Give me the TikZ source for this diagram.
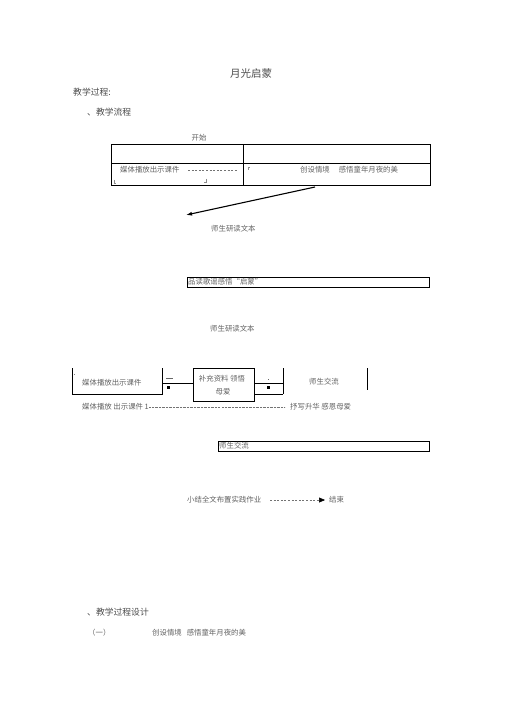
\documentclass[tikz,border=0pt]{standalone}
\usepackage{fontspec}
\setmainfont{Noto Sans CJK SC}
\usetikzlibrary{arrows.meta}
\begin{document}
\begin{tikzpicture}[x=1pt,y=-1pt,
  txt/.style={inner sep=0pt, anchor=west, text=black!62, font=\fontsize{7.4}{8}\selectfont},
  ctxt/.style={txt, anchor=center},
  head/.style={inner sep=0pt, anchor=west, text=black!70, font=\fontsize{8.8}{10}\selectfont},
  frame/.style={draw=black, line width=1pt},
  tick/.style={draw=black!45, line width=0.4pt},
  dotline/.style={draw=black!55, line width=0.5pt, dash pattern=on 2pt off 1.6pt},
  sq/.style={fill=black, inner sep=0pt, minimum size=3pt},
]
\useasboundingbox (0,0) rectangle (505,714);
% headings
\node[inner sep=0pt, text=black!70, font=\fontsize{10.5}{12}\selectfont] (title) at (251,74) {月光启蒙};
\node[head] (jxgc) at (73,92) {教学过程:};
\node[head] (lc) at (87,112) {、教学流程};
\node[ctxt] (start) at (199,138) {开始};
% table
\draw[frame] (111,145) rectangle (430,185);
\draw[frame] (111,164) -- (430,164);
\draw[frame] (243,145) -- (243,185);
\node[txt] (mt1) at (120,170) {媒体播放出示课件};
\coordinate (d1a) at (188,170);
\coordinate (d1b) at (237,170);
\draw[dotline] (d1a) -- (d1b);
\draw[tick] (114,180) -- (114,183) -- (116,183);
\draw[tick] (206,179) -- (206,182) -- (204,182);
\draw[tick] (248,170) -- (248,167) -- (250,167);
\node[txt] (cs) at (300,170) {创设情境\hspace{9pt}感悟童年月夜的美};
% arrow
\coordinate (a1) at (315,187);
\coordinate (a2) at (186,215);
\draw[line width=1.1pt, -{Latex[length=6pt,width=4pt]}] (a1) -- (a2);
\node[txt] (yd1) at (211,229) {师生研读文本};
% box 2
\draw[frame] (187,277) rectangle (429,287);
\node[txt] (pd) at (188,282) {品读歌谣感悟“启蒙”};
\node[txt] (yd2) at (210,329) {师生研读文本};
% lower row
\draw[frame] (72,368) -- (72,394) -- (162,394) -- (162,368);
\node[txt] (mt2) at (82,383) {媒体播放出示课件};
\node[inner sep=0pt, fill=black!50, minimum size=1pt] (dotA) at (74,374) {};
\draw[draw=black!60, line width=0.6pt] (166,378) -- (173,378);
\node[sq] (sq1) at (168,387) {};
\node[frame, inner sep=0pt, minimum width=61pt, minimum height=33pt] (bc) at (223.5,384.5) {};
\node[ctxt] (bc1) at (222,379) {补充资料 领悟};
\node[ctxt] (bc2) at (223,392) {母爱};
\coordinate (l1) at (162,383);
\draw[frame] (l1) -- (bc.west |- l1);
\coordinate (r1) at (283,383);
\coordinate (r2) at (283,394);
\draw[frame] (bc.east |- r1) -- (r1);
\draw[frame] (bc.east |- r2) -- (r2);
\node[inner sep=0pt, fill=black!60, minimum size=1pt] (dotB) at (268,379) {};
\node[sq] (sq2) at (268,387) {};
\draw[frame] (283,368) -- (283,394);
\draw[frame] (367,368) -- (367,390);
\node[txt] (sj) at (309,382) {师生交流};
% under line
\node[txt] (mt3) at (82,407) {媒体播放 出示课件 1};
\coordinate (u1) at (220,407);
\coordinate (u2) at (222,407);
\coordinate (u3) at (285,407);
\draw[dotline, dash pattern=on 0.8pt off 0.6pt] (mt3.east) -- (u1);
\draw[dotline, dash pattern=on 0.8pt off 0.6pt] (u2) -- (u3);
\node[txt] (sx) at (290,407) {抒写升华 感恩母爱};
% box 3
\draw[frame] (218,441) rectangle (429,451);
\node[txt] (sj2) at (219,446) {师生交流};
% conclusion
\node[txt] (xj) at (187,500) {小结全文布置实践作业};
\node[txt] (js) at (329,500) {结束};
\coordinate (c1) at (270,500);
\coordinate (c2) at (325,500);
\draw[dotline, -{Triangle[length=6pt,width=5pt,color=black,fill=black]}] (c1) -- (c2);
% bottom
\node[head] (sj3) at (87,612) {、教学过程设计};
\node[txt] (one) at (88,633) {（一）};
\node[txt] (cs2) at (152,633) {创设情境\hspace{5pt}感悟童年月夜的美};
\end{tikzpicture}
\end{document}
